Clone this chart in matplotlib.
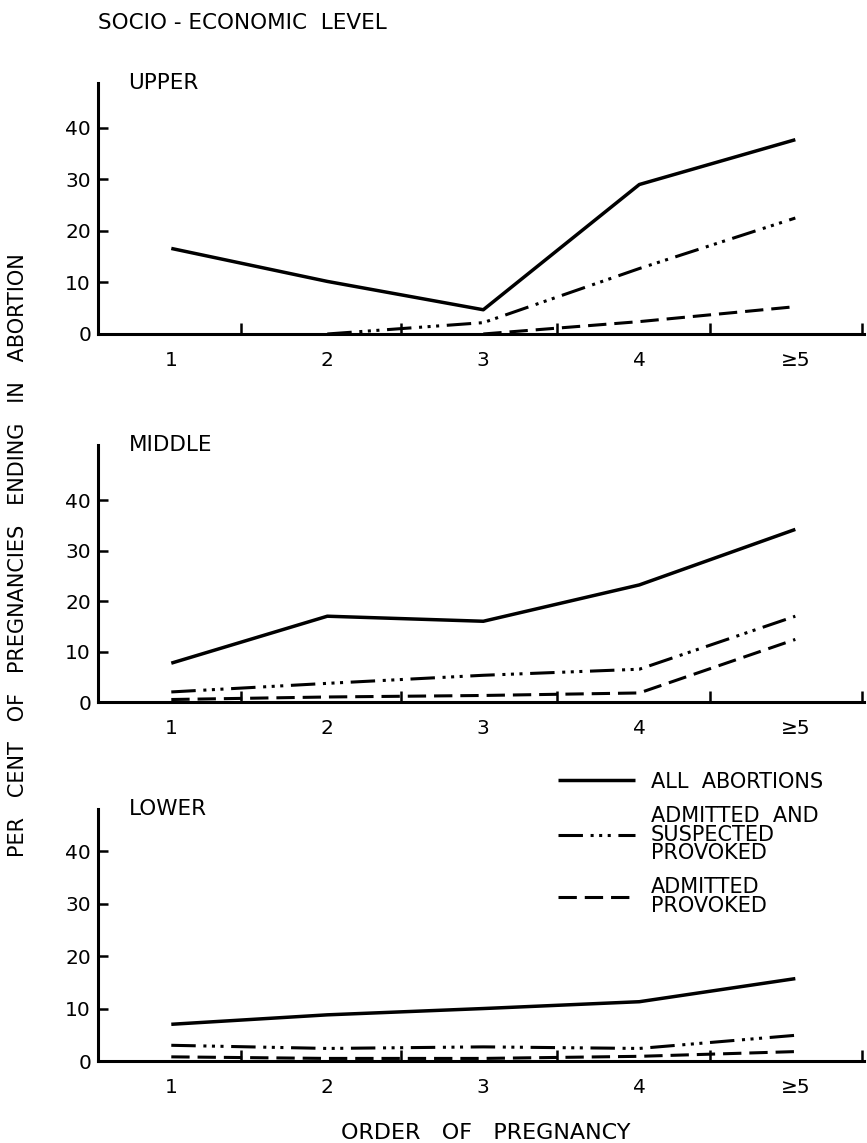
import numpy as np
import matplotlib
matplotlib.use("Agg")
import matplotlib.pyplot as plt

plt.rcParams['font.family'] = ['DejaVu Sans']

orders = [1, 2, 3, 4, 5]
order_labels = ['1', '2', '3', '4', '≥5']
y_ticks = [0, 10, 20, 30, 40]
levels = ['UPPER', 'MIDDLE', 'LOWER']
series_names = ['ALL  ABORTIONS', 'ADMITTED  AND\nSUSPECTED\nPROVOKED', 'ADMITTED\nPROVOKED']

nan = np.nan
upper_all = [16.6, 10.2, 4.7, 29.0, 37.7]
upper_susp = [nan, 0.0, 2.2, 12.7, 22.5]
upper_prov = [nan, nan, 0.0, 2.4, 5.3]

middle_all = [7.7, 17.0, 16.0, 23.2, 34.2]
middle_susp = [2.0, 3.7, 5.3, 6.5, 17.0]
middle_prov = [0.5, 1.0, 1.3, 1.8, 12.4]

lower_all = [7.0, 8.8, 10.0, 11.3, 15.7]
lower_susp = [3.0, 2.4, 2.7, 2.4, 4.9]
lower_prov = [0.8, 0.5, 0.5, 0.9, 1.8]

panel_data = [
    (upper_all, upper_susp, upper_prov),
    (middle_all, middle_susp, middle_prov),
    (lower_all, lower_susp, lower_prov),
]

styles = ['-', (0, (8, 2.5, 1, 1.8, 1, 1.8, 1, 2.5)), (0, (6, 2.6))]
widths = [2.5, 2.2, 2.2]

# layout (figure fractions) for each panel: bottom, height, y top
rects = [(0.7078, 0.2196, 48.7), (0.3858, 0.2248, 50.9), (0.0717, 0.2205, 48.0)]
sep_ticks = [1.45, 2.47, 3.47, 4.45, 5.43]

fig = plt.figure(figsize=(8.67, 11.43), dpi=100)

axes = []
for (bottom, height, ytop), name, data in zip(rects, levels, panel_data):
    ax = fig.add_axes([0.113, bottom, 0.8835, height])
    lines = []
    for vals, ls, lw in zip(data, styles, widths):
        ln, = ax.plot(orders, vals, color='black', linestyle=ls, linewidth=lw,
                      clip_on=False, solid_capstyle='butt', dash_capstyle='butt')
        lines.append(ln)
    ax.set_xlim(0.53, 5.44)
    ax.set_ylim(0, ytop)
    for s in ['top', 'right']:
        ax.spines[s].set_visible(False)
    for s in ['left', 'bottom']:
        ax.spines[s].set_linewidth(2.2)
    ax.set_xticks(orders)
    ax.set_xticklabels(order_labels, fontsize=14.5)
    ax.set_xticks(sep_ticks, minor=True)
    ax.tick_params(axis='x', which='major', length=0, pad=12)
    ax.tick_params(axis='x', which='minor', direction='in', length=8, width=1.8)
    ax.set_yticks(y_ticks)
    ax.set_yticklabels([str(v) for v in y_ticks], fontsize=14.5)
    ax.tick_params(axis='y', direction='in', length=7, width=1.8, pad=5)
    ax.text(0.04, 1.0, name, transform=ax.transAxes,
            fontsize=15.5, ha='left', va='center')
    axes.append((ax, lines))

fig.text(0.113, 0.980, 'SOCIO - ECONOMIC  LEVEL', fontsize=15.5, ha='left', va='center')
fig.text(0.021, 0.514, 'PER   CENT   OF   PREGNANCIES   ENDING   IN   ABORTION',
         rotation=90, fontsize=15, ha='center', va='center')
fig.text(0.56, 0.009, 'ORDER   OF   PREGNANCY', fontsize=16, ha='center', va='center')

leg = fig.legend(axes[2][1], series_names, loc='upper left',
                 bbox_to_anchor=(0.644, 0.325), bbox_transform=fig.transFigure,
                 frameon=False, fontsize=15, handlelength=3.7, handletextpad=0.75,
                 labelspacing=0.7, borderpad=0, borderaxespad=0)
for t in leg.get_texts():
    t.set_linespacing(0.9)

fig.savefig('out.png', dpi=100)
